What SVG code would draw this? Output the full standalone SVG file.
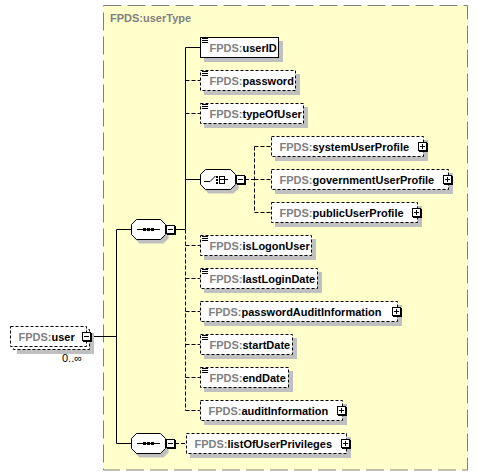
<svg xmlns="http://www.w3.org/2000/svg" width="478" height="476" viewBox="0 0 478 476">
<style>
.frame{fill:#ffffcc;stroke:#808080;stroke-dasharray:18 6}
.bx{fill:#fff;stroke:#000}
.dsh{stroke-dasharray:3 2}
.sh{fill:#c0c0c0}
.btn{fill:#fff;stroke:#000}
.bsh{fill:#000}
.sym{fill:none;stroke:#000}
.ln{fill:none;stroke:#000}
.ld{stroke-dasharray:4 2}
.t{font-family:"Liberation Sans",Arial,sans-serif;font-size:11px;font-weight:bold;fill:#000}
.p{fill:#808080}
.occ{font-family:"Liberation Sans",Arial,sans-serif;font-size:11px;fill:#000}
</style>
<g id="userType">
<rect class="frame" x="103.5" y="5.5" width="364" height="464.5"/>
<text class="t p" x="110" y="22">FPDS:userType</text>
</g>
<g id="connectors">
<path class="ln" d="M91,336.5H116.5M116.5,229.5V443.5M116.5,229.5H131.5M116.5,443.5H131.5"/>
<path class="ln" d="M175,229.5H185.5M185.5,47.5V229.5M185.5,47.5H200.5M185.5,179.5H200.5"/>
<path class="ln ld" d="M185.5,229.5V410.5M185.5,80.5H200.5M185.5,113.5H200.5M185.5,245.5H200.5M185.5,278.5H200.5M185.5,311.5H200.5M185.5,344.5H200.5M185.5,377.5H200.5M185.5,410.5H200.5"/>
<path class="ln ld" d="M245,179.5H254.5M254.5,146.5V212.5M254.5,146.5H271.5M254.5,179.5H271.5M254.5,212.5H271.5"/>
<path class="ln ld" d="M175,443.5H186.5"/>
</g>
<g id="n-user">
<rect class="sh" x="17" y="333" width="77" height="21"/>
<rect class="bx dsh" x="13.5" y="329.5" width="76" height="20"/>
<rect class="bx dsh" x="10.5" y="326.5" width="76" height="20"/>
<text class="t" x="18.5" y="341"><tspan class="p">FPDS:</tspan>user</text>
<rect class="bsh" x="83" y="333" width="9" height="9"/>
<rect class="btn" x="82.5" y="332.5" width="8" height="8"/>
<path class="sym" d="M84,336.5H89"/>
<text class="occ" x="62" y="362">0..∞</text>
</g>
<g id="seq1">
<path class="sh" d="M139.5,223.5H163.5L168.5,228.5V238.5L163.5,243.5H139.5L134.5,238.5V228.5Z"/>
<path class="bx" d="M136.5,219.5H160.5L165.5,224.5V234.5L160.5,239.5H136.5L131.5,234.5V224.5Z"/>
<path class="sym" d="M137,229.5H160"/>
<rect class="bsh" x="143" y="228" width="3" height="3"/>
<rect class="bsh" x="147" y="228" width="3" height="3"/>
<rect class="bsh" x="151" y="228" width="3" height="3"/>
<rect class="bsh" x="167" y="226" width="9" height="9"/>
<rect class="btn" x="166.5" y="225.5" width="8" height="8"/>
<path class="sym" d="M168,229.5H173"/>
</g>
<g id="seq2">
<path class="sh" d="M139.5,437.5H163.5L168.5,442.5V452.5L163.5,457.5H139.5L134.5,452.5V442.5Z"/>
<path class="bx" d="M136.5,433.5H160.5L165.5,438.5V448.5L160.5,453.5H136.5L131.5,448.5V438.5Z"/>
<path class="sym" d="M137,443.5H160"/>
<rect class="bsh" x="143" y="442" width="3" height="3"/>
<rect class="bsh" x="147" y="442" width="3" height="3"/>
<rect class="bsh" x="151" y="442" width="3" height="3"/>
<rect class="bsh" x="167" y="440" width="9" height="9"/>
<rect class="btn" x="166.5" y="439.5" width="8" height="8"/>
<path class="sym" d="M168,443.5H173"/>
</g>
<g id="choice">
<path class="sh" d="M208.5,173.5H233.5L238.5,178.5V188.5L233.5,193.5H208.5L203.5,188.5V178.5Z"/>
<path class="bx" d="M205.5,169.5H230.5L235.5,174.5V184.5L230.5,189.5H205.5L200.5,184.5V174.5Z"/>
<path class="sym" d="M204,181.5H210L215.5,176"/>
<rect class="bsh" x="216" y="176" width="2" height="2"/>
<rect class="bsh" x="216" y="179" width="2" height="2"/>
<rect class="bsh" x="216" y="182" width="2" height="2"/>
<path class="sym" d="M219.5,176V184M219,176.5H225M219,179.5H228M219,183.5H225M224.5,176V184"/>
<rect class="bsh" x="237" y="176" width="9" height="9"/>
<rect class="btn" x="236.5" y="175.5" width="8" height="8"/>
<path class="sym" d="M238,179.5H243"/>
</g>
<g id="n-userID">
<rect class="sh" x="204" y="41" width="79" height="21"/>
<rect class="bx" x="200.5" y="37.5" width="78" height="20"/>
<path class="sym" d="M202,38.5H208M202,40.5H208M202,42.5H208"/>
<text class="t" x="209.5" y="52"><tspan class="p">FPDS:</tspan>userID</text>
</g>
<g id="n-password">
<rect class="sh" x="204" y="74" width="96" height="21"/>
<rect class="bx dsh" x="200.5" y="70.5" width="95" height="20"/>
<path class="sym" d="M202,71.5H208M202,73.5H208M202,75.5H208"/>
<text class="t" x="209.5" y="85"><tspan class="p">FPDS:</tspan>password</text>
</g>
<g id="n-typeOfUser">
<rect class="sh" x="204" y="107" width="104" height="21"/>
<rect class="bx dsh" x="200.5" y="103.5" width="103" height="20"/>
<path class="sym" d="M202,104.5H208M202,106.5H208M202,108.5H208"/>
<text class="t" x="209.5" y="118"><tspan class="p">FPDS:</tspan>typeOfUser</text>
</g>
<g id="n-systemUserProfile">
<rect class="sh" x="275" y="140" width="153" height="21"/>
<rect class="bx dsh" x="271.5" y="136.5" width="152" height="20"/>
<text class="t" x="279.5" y="151"><tspan class="p">FPDS:</tspan>systemUserProfile</text>
<rect class="bsh" x="419" y="143" width="9" height="9"/>
<rect class="btn" x="418.5" y="142.5" width="8" height="8"/>
<path class="sym" d="M420,146.5H425M422.5,144V149"/>
</g>
<g id="n-governmentUserProfile">
<rect class="sh" x="275" y="173" width="178" height="21"/>
<rect class="bx dsh" x="271.5" y="169.5" width="177" height="20"/>
<text class="t" x="279.5" y="184"><tspan class="p">FPDS:</tspan>governmentUserProfile</text>
<rect class="bsh" x="444" y="176" width="9" height="9"/>
<rect class="btn" x="443.5" y="175.5" width="8" height="8"/>
<path class="sym" d="M445,179.5H450M447.5,177V182"/>
</g>
<g id="n-publicUserProfile">
<rect class="sh" x="275" y="206" width="147" height="21"/>
<rect class="bx dsh" x="271.5" y="202.5" width="146" height="20"/>
<text class="t" x="279.5" y="217"><tspan class="p">FPDS:</tspan>publicUserProfile</text>
<rect class="bsh" x="413" y="209" width="9" height="9"/>
<rect class="btn" x="412.5" y="208.5" width="8" height="8"/>
<path class="sym" d="M414,212.5H419M416.5,210V215"/>
</g>
<g id="n-isLogonUser">
<rect class="sh" x="204" y="239" width="112" height="21"/>
<rect class="bx dsh" x="200.5" y="235.5" width="111" height="20"/>
<path class="sym" d="M202,236.5H208M202,238.5H208M202,240.5H208"/>
<text class="t" x="209.5" y="250"><tspan class="p">FPDS:</tspan>isLogonUser</text>
</g>
<g id="n-lastLoginDate">
<rect class="sh" x="204" y="272" width="118" height="21"/>
<rect class="bx dsh" x="200.5" y="268.5" width="117" height="20"/>
<path class="sym" d="M202,269.5H208M202,271.5H208M202,273.5H208"/>
<text class="t" x="209.5" y="283"><tspan class="p">FPDS:</tspan>lastLoginDate</text>
</g>
<g id="n-passwordAuditInformation">
<rect class="sh" x="204" y="305" width="198" height="21"/>
<rect class="bx dsh" x="200.5" y="301.5" width="197" height="20"/>
<text class="t" x="208.5" y="316"><tspan class="p">FPDS:</tspan>passwordAuditInformation</text>
<rect class="bsh" x="393" y="308" width="9" height="9"/>
<rect class="btn" x="392.5" y="307.5" width="8" height="8"/>
<path class="sym" d="M394,311.5H399M396.5,309V314"/>
</g>
<g id="n-startDate">
<rect class="sh" x="204" y="338" width="93" height="21"/>
<rect class="bx dsh" x="200.5" y="334.5" width="92" height="20"/>
<path class="sym" d="M202,335.5H208M202,337.5H208M202,339.5H208"/>
<text class="t" x="209.5" y="349"><tspan class="p">FPDS:</tspan>startDate</text>
</g>
<g id="n-endDate">
<rect class="sh" x="204" y="371" width="89" height="21"/>
<rect class="bx dsh" x="200.5" y="367.5" width="88" height="20"/>
<path class="sym" d="M202,368.5H208M202,370.5H208M202,372.5H208"/>
<text class="t" x="209.5" y="382"><tspan class="p">FPDS:</tspan>endDate</text>
</g>
<g id="n-auditInformation">
<rect class="sh" x="204" y="404" width="143" height="21"/>
<rect class="bx dsh" x="200.5" y="400.5" width="142" height="20"/>
<text class="t" x="208.5" y="415"><tspan class="p">FPDS:</tspan>auditInformation</text>
<rect class="bsh" x="338" y="407" width="9" height="9"/>
<rect class="btn" x="337.5" y="406.5" width="8" height="8"/>
<path class="sym" d="M339,410.5H344M341.5,408V413"/>
</g>
<g id="n-listOfUserPrivileges">
<rect class="sh" x="190" y="437" width="161" height="21"/>
<rect class="bx dsh" x="186.5" y="433.5" width="160" height="20"/>
<text class="t" x="194.5" y="448"><tspan class="p">FPDS:</tspan>listOfUserPrivileges</text>
<rect class="bsh" x="342" y="440" width="9" height="9"/>
<rect class="btn" x="341.5" y="439.5" width="8" height="8"/>
<path class="sym" d="M343,443.5H348M345.5,441V446"/>
</g>
</svg>
